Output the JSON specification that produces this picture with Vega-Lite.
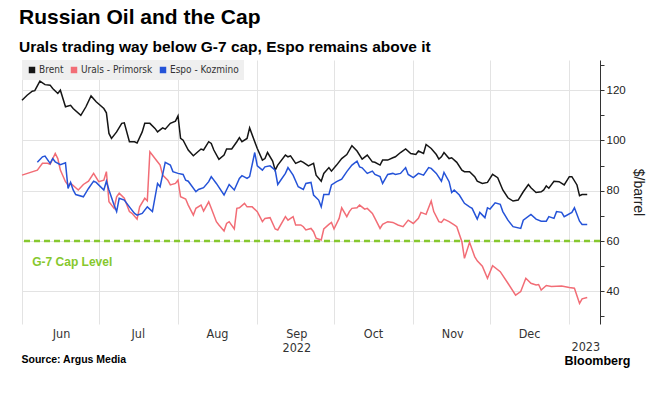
{
 "$schema": "https://vega.github.io/schema/vega-lite/v6.json",
 "width": 578,
 "height": 264,
 "autosize": "none",
 "padding": {"left": 22, "top": 60, "right": 62, "bottom": 70},
 "background": "white",
 "title": {
  "text": "Russian Oil and the Cap",
  "subtitle": "Urals trading way below G-7 cap, Espo remains above it",
  "anchor": "start", "frame": "group", "dx": -3, "offset": 5,
  "font": "Liberation Sans", "fontSize": 21, "fontWeight": "bold", "color": "#000000",
  "subtitleFont": "Liberation Sans", "subtitleFontSize": 15.5, "subtitleFontWeight": "bold", "subtitleColor": "#000000", "subtitlePadding": 12
 },
 "config": {"view": {"stroke": null}},
 "resolve": {"axis": {"x": "independent", "y": "independent"}},
 "layer": [
  {
   "data": {"values": [{}]},
   "mark": {"type": "rule", "color": "#86c82e", "strokeWidth": 2.5, "strokeDash": [6, 4]},
   "encoding": {"y": {"datum": 60, "type": "quantitative",
    "axis": {"orient": "right", "values": [30, 50, 70, 90, 110, 130], "labels": false, "grid": false, "domain": false,
     "ticks": true, "tickColor": "#333333", "tickSize": 4, "tickWidth": 1, "title": null}}}
  },
  {
   "data": {"values": [
    {"d":"2022-06-01","s":"Brent","v":116},{"d":"2022-06-03","s":"Brent","v":118},{"d":"2022-06-05","s":"Brent","v":119.6},{"d":"2022-06-06","s":"Brent","v":119.8},{"d":"2022-06-08","s":"Brent","v":123.6},{"d":"2022-06-10","s":"Brent","v":122.2},{"d":"2022-06-12","s":"Brent","v":122},{"d":"2022-06-13","s":"Brent","v":120.7},{"d":"2022-06-15","s":"Brent","v":118.7},{"d":"2022-06-16","s":"Brent","v":120},{"d":"2022-06-18","s":"Brent","v":113.4},{"d":"2022-06-20","s":"Brent","v":114},{"d":"2022-06-21","s":"Brent","v":112.7},{"d":"2022-06-24","s":"Brent","v":110},{"d":"2022-06-26","s":"Brent","v":113.4},{"d":"2022-06-28","s":"Brent","v":117.7},{"d":"2022-06-30","s":"Brent","v":115.4},
    {"d":"2022-07-03","s":"Brent","v":112.7},{"d":"2022-07-04","s":"Brent","v":111},{"d":"2022-07-05","s":"Brent","v":102.8},{"d":"2022-07-06","s":"Brent","v":100.8},{"d":"2022-07-08","s":"Brent","v":103.4},{"d":"2022-07-10","s":"Brent","v":106.8},{"d":"2022-07-11","s":"Brent","v":107},{"d":"2022-07-13","s":"Brent","v":99.5},{"d":"2022-07-15","s":"Brent","v":99.5},{"d":"2022-07-16","s":"Brent","v":99},{"d":"2022-07-18","s":"Brent","v":103.4},{"d":"2022-07-19","s":"Brent","v":106.8},{"d":"2022-07-21","s":"Brent","v":106.8},{"d":"2022-07-23","s":"Brent","v":104.8},{"d":"2022-07-24","s":"Brent","v":103.4},{"d":"2022-07-26","s":"Brent","v":105},{"d":"2022-07-27","s":"Brent","v":104.5},{"d":"2022-07-29","s":"Brent","v":106.8},{"d":"2022-07-31","s":"Brent","v":107.7},
    {"d":"2022-08-01","s":"Brent","v":109.8},{"d":"2022-08-02","s":"Brent","v":100.8},{"d":"2022-08-03","s":"Brent","v":100.1},{"d":"2022-08-05","s":"Brent","v":96.2},{"d":"2022-08-07","s":"Brent","v":93.9},{"d":"2022-08-08","s":"Brent","v":94.8},{"d":"2022-08-10","s":"Brent","v":96.6},{"d":"2022-08-11","s":"Brent","v":96.2},{"d":"2022-08-13","s":"Brent","v":99.5},{"d":"2022-08-14","s":"Brent","v":98.8},{"d":"2022-08-15","s":"Brent","v":96.2},{"d":"2022-08-17","s":"Brent","v":92.5},{"d":"2022-08-19","s":"Brent","v":94.2},{"d":"2022-08-20","s":"Brent","v":96.6},{"d":"2022-08-22","s":"Brent","v":96.6},{"d":"2022-08-24","s":"Brent","v":99.5},{"d":"2022-08-25","s":"Brent","v":101.1},{"d":"2022-08-26","s":"Brent","v":99.5},{"d":"2022-08-28","s":"Brent","v":100.8},{"d":"2022-08-29","s":"Brent","v":105},{"d":"2022-08-31","s":"Brent","v":99.5},
    {"d":"2022-09-01","s":"Brent","v":96.8},{"d":"2022-09-03","s":"Brent","v":92.2},{"d":"2022-09-04","s":"Brent","v":92.8},{"d":"2022-09-05","s":"Brent","v":95.2},{"d":"2022-09-07","s":"Brent","v":91.8},{"d":"2022-09-08","s":"Brent","v":88.2},{"d":"2022-09-09","s":"Brent","v":90.2},{"d":"2022-09-12","s":"Brent","v":94.2},{"d":"2022-09-13","s":"Brent","v":93.5},{"d":"2022-09-14","s":"Brent","v":93.9},{"d":"2022-09-16","s":"Brent","v":90.9},{"d":"2022-09-18","s":"Brent","v":91.8},{"d":"2022-09-19","s":"Brent","v":91.3},{"d":"2022-09-21","s":"Brent","v":89.9},{"d":"2022-09-23","s":"Brent","v":90.9},{"d":"2022-09-24","s":"Brent","v":86.2},{"d":"2022-09-26","s":"Brent","v":83.8},{"d":"2022-09-27","s":"Brent","v":86.9},{"d":"2022-09-29","s":"Brent","v":89.2},{"d":"2022-09-30","s":"Brent","v":87.8},
    {"d":"2022-10-02","s":"Brent","v":90.2},{"d":"2022-10-04","s":"Brent","v":92.8},{"d":"2022-10-06","s":"Brent","v":94.4},{"d":"2022-10-08","s":"Brent","v":97.9},{"d":"2022-10-10","s":"Brent","v":95.8},{"d":"2022-10-12","s":"Brent","v":92.6},{"d":"2022-10-14","s":"Brent","v":94.2},{"d":"2022-10-16","s":"Brent","v":91.5},{"d":"2022-10-17","s":"Brent","v":91.3},{"d":"2022-10-19","s":"Brent","v":90.2},{"d":"2022-10-20","s":"Brent","v":92.2},{"d":"2022-10-22","s":"Brent","v":92.2},{"d":"2022-10-24","s":"Brent","v":93.1},{"d":"2022-10-25","s":"Brent","v":93.5},{"d":"2022-10-27","s":"Brent","v":95.2},{"d":"2022-10-29","s":"Brent","v":96.6},{"d":"2022-10-31","s":"Brent","v":94.8},
    {"d":"2022-11-02","s":"Brent","v":94.4},{"d":"2022-11-03","s":"Brent","v":95.8},{"d":"2022-11-05","s":"Brent","v":94.8},{"d":"2022-11-06","s":"Brent","v":98.4},{"d":"2022-11-08","s":"Brent","v":96.8},{"d":"2022-11-10","s":"Brent","v":94.4},{"d":"2022-11-11","s":"Brent","v":92.6},{"d":"2022-11-12","s":"Brent","v":93.5},{"d":"2022-11-13","s":"Brent","v":95.2},{"d":"2022-11-15","s":"Brent","v":92.8},{"d":"2022-11-16","s":"Brent","v":93.1},{"d":"2022-11-18","s":"Brent","v":91.3},{"d":"2022-11-20","s":"Brent","v":88.2},{"d":"2022-11-21","s":"Brent","v":87.6},{"d":"2022-11-23","s":"Brent","v":87.6},{"d":"2022-11-25","s":"Brent","v":85.6},{"d":"2022-11-26","s":"Brent","v":83.8},{"d":"2022-11-28","s":"Brent","v":82.9},{"d":"2022-11-30","s":"Brent","v":83.3},
    {"d":"2022-12-02","s":"Brent","v":86.5},{"d":"2022-12-04","s":"Brent","v":85.2},{"d":"2022-12-06","s":"Brent","v":80.3},{"d":"2022-12-08","s":"Brent","v":77.2},{"d":"2022-12-10","s":"Brent","v":75.9},{"d":"2022-12-12","s":"Brent","v":76.3},{"d":"2022-12-14","s":"Brent","v":79.6},{"d":"2022-12-16","s":"Brent","v":82.5},{"d":"2022-12-17","s":"Brent","v":81.2},{"d":"2022-12-19","s":"Brent","v":79.3},{"d":"2022-12-21","s":"Brent","v":79.6},{"d":"2022-12-22","s":"Brent","v":80.3},{"d":"2022-12-23","s":"Brent","v":81.9},{"d":"2022-12-24","s":"Brent","v":81},{"d":"2022-12-26","s":"Brent","v":83.8},{"d":"2022-12-28","s":"Brent","v":83.6},{"d":"2022-12-30","s":"Brent","v":82.3},{"d":"2023-01-01","s":"Brent","v":85.6},{"d":"2023-01-02","s":"Brent","v":85.6},{"d":"2023-01-04","s":"Brent","v":82.3},{"d":"2023-01-05","s":"Brent","v":78},{"d":"2023-01-06","s":"Brent","v":78.5},{"d":"2023-01-08","s":"Brent","v":78.5},

    {"d":"2022-06-01","s":"Urals - Primorsk","v":86.2},{"d":"2022-06-07","s":"Urals - Primorsk","v":88.2},{"d":"2022-06-09","s":"Urals - Primorsk","v":90.9},{"d":"2022-06-11","s":"Urals - Primorsk","v":90.9},{"d":"2022-06-12","s":"Urals - Primorsk","v":90.5},{"d":"2022-06-14","s":"Urals - Primorsk","v":94.8},{"d":"2022-06-15","s":"Urals - Primorsk","v":92.8},{"d":"2022-06-16","s":"Urals - Primorsk","v":88.2},{"d":"2022-06-18","s":"Urals - Primorsk","v":83.6},{"d":"2022-06-19","s":"Urals - Primorsk","v":82.3},{"d":"2022-06-20","s":"Urals - Primorsk","v":83},{"d":"2022-06-23","s":"Urals - Primorsk","v":80.3},{"d":"2022-06-25","s":"Urals - Primorsk","v":82.5},{"d":"2022-06-27","s":"Urals - Primorsk","v":83.8},{"d":"2022-06-29","s":"Urals - Primorsk","v":86.9},
    {"d":"2022-07-01","s":"Urals - Primorsk","v":83.6},{"d":"2022-07-03","s":"Urals - Primorsk","v":84.2},{"d":"2022-07-04","s":"Urals - Primorsk","v":87.6},{"d":"2022-07-05","s":"Urals - Primorsk","v":75.6},{"d":"2022-07-07","s":"Urals - Primorsk","v":73},{"d":"2022-07-08","s":"Urals - Primorsk","v":77.6},{"d":"2022-07-09","s":"Urals - Primorsk","v":79},{"d":"2022-07-11","s":"Urals - Primorsk","v":77},{"d":"2022-07-13","s":"Urals - Primorsk","v":71.7},{"d":"2022-07-14","s":"Urals - Primorsk","v":71},{"d":"2022-07-16","s":"Urals - Primorsk","v":68.7},{"d":"2022-07-17","s":"Urals - Primorsk","v":73.6},{"d":"2022-07-19","s":"Urals - Primorsk","v":77},{"d":"2022-07-20","s":"Urals - Primorsk","v":76},{"d":"2022-07-21","s":"Urals - Primorsk","v":95.5},{"d":"2022-07-23","s":"Urals - Primorsk","v":92.8},{"d":"2022-07-25","s":"Urals - Primorsk","v":90.2},{"d":"2022-07-26","s":"Urals - Primorsk","v":86.2},{"d":"2022-07-28","s":"Urals - Primorsk","v":84.2},{"d":"2022-07-29","s":"Urals - Primorsk","v":82.3},{"d":"2022-07-31","s":"Urals - Primorsk","v":82.9},
    {"d":"2022-08-01","s":"Urals - Primorsk","v":84.2},{"d":"2022-08-02","s":"Urals - Primorsk","v":77.6},{"d":"2022-08-04","s":"Urals - Primorsk","v":76.7},{"d":"2022-08-05","s":"Urals - Primorsk","v":74.3},{"d":"2022-08-07","s":"Urals - Primorsk","v":70.3},{"d":"2022-08-08","s":"Urals - Primorsk","v":73},{"d":"2022-08-10","s":"Urals - Primorsk","v":74.3},{"d":"2022-08-11","s":"Urals - Primorsk","v":71.9},{"d":"2022-08-13","s":"Urals - Primorsk","v":75.6},{"d":"2022-08-14","s":"Urals - Primorsk","v":73},{"d":"2022-08-16","s":"Urals - Primorsk","v":67.7},{"d":"2022-08-17","s":"Urals - Primorsk","v":66.4},{"d":"2022-08-19","s":"Urals - Primorsk","v":64},{"d":"2022-08-20","s":"Urals - Primorsk","v":67},{"d":"2022-08-21","s":"Urals - Primorsk","v":67.7},{"d":"2022-08-23","s":"Urals - Primorsk","v":64.8},{"d":"2022-08-24","s":"Urals - Primorsk","v":73},{"d":"2022-08-25","s":"Urals - Primorsk","v":73.2},{"d":"2022-08-27","s":"Urals - Primorsk","v":75},{"d":"2022-08-28","s":"Urals - Primorsk","v":73.6},{"d":"2022-08-30","s":"Urals - Primorsk","v":73.6},
    {"d":"2022-09-01","s":"Urals - Primorsk","v":71.7},{"d":"2022-09-03","s":"Urals - Primorsk","v":67.7},{"d":"2022-09-04","s":"Urals - Primorsk","v":69},{"d":"2022-09-06","s":"Urals - Primorsk","v":69.3},{"d":"2022-09-08","s":"Urals - Primorsk","v":64.8},{"d":"2022-09-09","s":"Urals - Primorsk","v":64.4},{"d":"2022-09-12","s":"Urals - Primorsk","v":69.7},{"d":"2022-09-13","s":"Urals - Primorsk","v":68.3},{"d":"2022-09-15","s":"Urals - Primorsk","v":69.7},{"d":"2022-09-16","s":"Urals - Primorsk","v":66.4},{"d":"2022-09-18","s":"Urals - Primorsk","v":66.4},{"d":"2022-09-19","s":"Urals - Primorsk","v":65.7},{"d":"2022-09-20","s":"Urals - Primorsk","v":64.4},{"d":"2022-09-22","s":"Urals - Primorsk","v":65},{"d":"2022-09-23","s":"Urals - Primorsk","v":63.7},{"d":"2022-09-24","s":"Urals - Primorsk","v":61.1},{"d":"2022-09-26","s":"Urals - Primorsk","v":60.4},{"d":"2022-09-27","s":"Urals - Primorsk","v":64.8},{"d":"2022-09-29","s":"Urals - Primorsk","v":66.6},{"d":"2022-09-30","s":"Urals - Primorsk","v":67.4},
    {"d":"2022-10-01","s":"Urals - Primorsk","v":64.8},{"d":"2022-10-03","s":"Urals - Primorsk","v":69},{"d":"2022-10-04","s":"Urals - Primorsk","v":73.2},{"d":"2022-10-06","s":"Urals - Primorsk","v":69.7},{"d":"2022-10-07","s":"Urals - Primorsk","v":71.7},{"d":"2022-10-08","s":"Urals - Primorsk","v":73},{"d":"2022-10-10","s":"Urals - Primorsk","v":73.2},{"d":"2022-10-11","s":"Urals - Primorsk","v":74.3},{"d":"2022-10-13","s":"Urals - Primorsk","v":72.7},{"d":"2022-10-14","s":"Urals - Primorsk","v":73},{"d":"2022-10-16","s":"Urals - Primorsk","v":71},{"d":"2022-10-17","s":"Urals - Primorsk","v":69},{"d":"2022-10-19","s":"Urals - Primorsk","v":65},{"d":"2022-10-20","s":"Urals - Primorsk","v":66.6},{"d":"2022-10-22","s":"Urals - Primorsk","v":67.7},{"d":"2022-10-24","s":"Urals - Primorsk","v":67.4},{"d":"2022-10-26","s":"Urals - Primorsk","v":66.4},{"d":"2022-10-28","s":"Urals - Primorsk","v":65.7},{"d":"2022-10-30","s":"Urals - Primorsk","v":68.3},
    {"d":"2022-11-01","s":"Urals - Primorsk","v":67},{"d":"2022-11-03","s":"Urals - Primorsk","v":69},{"d":"2022-11-04","s":"Urals - Primorsk","v":71.4},{"d":"2022-11-06","s":"Urals - Primorsk","v":70.6},{"d":"2022-11-08","s":"Urals - Primorsk","v":75.9},{"d":"2022-11-09","s":"Urals - Primorsk","v":71.7},{"d":"2022-11-11","s":"Urals - Primorsk","v":67.7},{"d":"2022-11-12","s":"Urals - Primorsk","v":67.4},{"d":"2022-11-13","s":"Urals - Primorsk","v":68.7},{"d":"2022-11-15","s":"Urals - Primorsk","v":67.7},{"d":"2022-11-17","s":"Urals - Primorsk","v":66.4},{"d":"2022-11-18","s":"Urals - Primorsk","v":65.7},{"d":"2022-11-20","s":"Urals - Primorsk","v":59.7},{"d":"2022-11-21","s":"Urals - Primorsk","v":53.1},{"d":"2022-11-23","s":"Urals - Primorsk","v":59.5},{"d":"2022-11-25","s":"Urals - Primorsk","v":53.8},{"d":"2022-11-26","s":"Urals - Primorsk","v":52.1},{"d":"2022-11-28","s":"Urals - Primorsk","v":50},{"d":"2022-11-30","s":"Urals - Primorsk","v":45.2},
    {"d":"2022-12-02","s":"Urals - Primorsk","v":50.2},{"d":"2022-12-05","s":"Urals - Primorsk","v":47.8},{"d":"2022-12-08","s":"Urals - Primorsk","v":43.2},{"d":"2022-12-11","s":"Urals - Primorsk","v":38.5},{"d":"2022-12-13","s":"Urals - Primorsk","v":39.9},{"d":"2022-12-15","s":"Urals - Primorsk","v":45.2},{"d":"2022-12-17","s":"Urals - Primorsk","v":43.2},{"d":"2022-12-19","s":"Urals - Primorsk","v":42.5},{"d":"2022-12-20","s":"Urals - Primorsk","v":42.7},{"d":"2022-12-21","s":"Urals - Primorsk","v":40.5},{"d":"2022-12-23","s":"Urals - Primorsk","v":42.3},{"d":"2022-12-25","s":"Urals - Primorsk","v":41.9},{"d":"2022-12-29","s":"Urals - Primorsk","v":42.1},{"d":"2023-01-01","s":"Urals - Primorsk","v":41.5},{"d":"2023-01-03","s":"Urals - Primorsk","v":41.2},{"d":"2023-01-05","s":"Urals - Primorsk","v":35.2},{"d":"2023-01-06","s":"Urals - Primorsk","v":37},{"d":"2023-01-08","s":"Urals - Primorsk","v":37.5},

    {"d":"2022-06-07","s":"Espo - Kozmino","v":91.3},{"d":"2022-06-09","s":"Espo - Kozmino","v":93.5},{"d":"2022-06-10","s":"Espo - Kozmino","v":93.8},{"d":"2022-06-12","s":"Espo - Kozmino","v":90.9},{"d":"2022-06-13","s":"Espo - Kozmino","v":92.8},{"d":"2022-06-14","s":"Espo - Kozmino","v":91.5},{"d":"2022-06-16","s":"Espo - Kozmino","v":90.4},{"d":"2022-06-18","s":"Espo - Kozmino","v":91.1},{"d":"2022-06-19","s":"Espo - Kozmino","v":80.9},{"d":"2022-06-20","s":"Espo - Kozmino","v":83.3},{"d":"2022-06-21","s":"Espo - Kozmino","v":80.3},{"d":"2022-06-22","s":"Espo - Kozmino","v":78.5},{"d":"2022-06-25","s":"Espo - Kozmino","v":77.6},{"d":"2022-06-27","s":"Espo - Kozmino","v":80.9},{"d":"2022-06-29","s":"Espo - Kozmino","v":83.8},{"d":"2022-06-30","s":"Espo - Kozmino","v":83.3},
    {"d":"2022-07-03","s":"Espo - Kozmino","v":80.3},{"d":"2022-07-04","s":"Espo - Kozmino","v":83.8},{"d":"2022-07-05","s":"Espo - Kozmino","v":80.3},{"d":"2022-07-07","s":"Espo - Kozmino","v":74.3},{"d":"2022-07-08","s":"Espo - Kozmino","v":71.7},{"d":"2022-07-09","s":"Espo - Kozmino","v":77},{"d":"2022-07-11","s":"Espo - Kozmino","v":76.3},{"d":"2022-07-13","s":"Espo - Kozmino","v":73.6},{"d":"2022-07-15","s":"Espo - Kozmino","v":71},{"d":"2022-07-16","s":"Espo - Kozmino","v":70.3},{"d":"2022-07-18","s":"Espo - Kozmino","v":71},{"d":"2022-07-20","s":"Espo - Kozmino","v":73.6},{"d":"2022-07-22","s":"Espo - Kozmino","v":71.7},{"d":"2022-07-24","s":"Espo - Kozmino","v":82.9},{"d":"2022-07-25","s":"Espo - Kozmino","v":81.6},{"d":"2022-07-27","s":"Espo - Kozmino","v":91.3},{"d":"2022-07-29","s":"Espo - Kozmino","v":90.2},{"d":"2022-07-30","s":"Espo - Kozmino","v":87.6},
    {"d":"2022-08-01","s":"Espo - Kozmino","v":86.9},{"d":"2022-08-03","s":"Espo - Kozmino","v":86.5},{"d":"2022-08-04","s":"Espo - Kozmino","v":84.2},{"d":"2022-08-05","s":"Espo - Kozmino","v":83.8},{"d":"2022-08-08","s":"Espo - Kozmino","v":79.6},{"d":"2022-08-09","s":"Espo - Kozmino","v":80.5},{"d":"2022-08-11","s":"Espo - Kozmino","v":81.2},{"d":"2022-08-13","s":"Espo - Kozmino","v":83.6},{"d":"2022-08-14","s":"Espo - Kozmino","v":85.6},{"d":"2022-08-16","s":"Espo - Kozmino","v":82.9},{"d":"2022-08-19","s":"Espo - Kozmino","v":78.3},{"d":"2022-08-21","s":"Espo - Kozmino","v":82.5},{"d":"2022-08-23","s":"Espo - Kozmino","v":80.3},{"d":"2022-08-25","s":"Espo - Kozmino","v":84.9},{"d":"2022-08-26","s":"Espo - Kozmino","v":86},{"d":"2022-08-28","s":"Espo - Kozmino","v":84.9},{"d":"2022-08-29","s":"Espo - Kozmino","v":85.6},{"d":"2022-08-31","s":"Espo - Kozmino","v":95.2},
    {"d":"2022-09-01","s":"Espo - Kozmino","v":89.9},{"d":"2022-09-03","s":"Espo - Kozmino","v":88.2},{"d":"2022-09-04","s":"Espo - Kozmino","v":89.5},{"d":"2022-09-06","s":"Espo - Kozmino","v":89.9},{"d":"2022-09-08","s":"Espo - Kozmino","v":88.2},{"d":"2022-09-09","s":"Espo - Kozmino","v":82.5},{"d":"2022-09-12","s":"Espo - Kozmino","v":86.9},{"d":"2022-09-13","s":"Espo - Kozmino","v":89.2},{"d":"2022-09-15","s":"Espo - Kozmino","v":86.2},{"d":"2022-09-17","s":"Espo - Kozmino","v":81.6},{"d":"2022-09-19","s":"Espo - Kozmino","v":80.5},{"d":"2022-09-20","s":"Espo - Kozmino","v":82.9},{"d":"2022-09-22","s":"Espo - Kozmino","v":83.3},{"d":"2022-09-23","s":"Espo - Kozmino","v":78.3},{"d":"2022-09-25","s":"Espo - Kozmino","v":76.3},{"d":"2022-09-26","s":"Espo - Kozmino","v":73.6},{"d":"2022-09-27","s":"Espo - Kozmino","v":78.5},{"d":"2022-09-29","s":"Espo - Kozmino","v":78.5},{"d":"2022-09-30","s":"Espo - Kozmino","v":82.3},
    {"d":"2022-10-02","s":"Espo - Kozmino","v":83.6},{"d":"2022-10-04","s":"Espo - Kozmino","v":84.6},{"d":"2022-10-06","s":"Espo - Kozmino","v":87.6},{"d":"2022-10-08","s":"Espo - Kozmino","v":90.2},{"d":"2022-10-10","s":"Espo - Kozmino","v":91.8},{"d":"2022-10-11","s":"Espo - Kozmino","v":89.5},{"d":"2022-10-12","s":"Espo - Kozmino","v":89.1},{"d":"2022-10-14","s":"Espo - Kozmino","v":86.9},{"d":"2022-10-16","s":"Espo - Kozmino","v":87.8},{"d":"2022-10-17","s":"Espo - Kozmino","v":86.5},{"d":"2022-10-19","s":"Espo - Kozmino","v":85.6},{"d":"2022-10-20","s":"Espo - Kozmino","v":82.9},{"d":"2022-10-22","s":"Espo - Kozmino","v":86.5},{"d":"2022-10-24","s":"Espo - Kozmino","v":86.9},{"d":"2022-10-25","s":"Espo - Kozmino","v":86.5},{"d":"2022-10-27","s":"Espo - Kozmino","v":86.9},{"d":"2022-10-29","s":"Espo - Kozmino","v":89.2},{"d":"2022-10-30","s":"Espo - Kozmino","v":86.5},
    {"d":"2022-11-01","s":"Espo - Kozmino","v":85.2},{"d":"2022-11-03","s":"Espo - Kozmino","v":86.9},{"d":"2022-11-05","s":"Espo - Kozmino","v":86.2},{"d":"2022-11-07","s":"Espo - Kozmino","v":89.2},{"d":"2022-11-08","s":"Espo - Kozmino","v":88.9},{"d":"2022-11-10","s":"Espo - Kozmino","v":86.9},{"d":"2022-11-12","s":"Espo - Kozmino","v":83.8},{"d":"2022-11-13","s":"Espo - Kozmino","v":87.3},{"d":"2022-11-15","s":"Espo - Kozmino","v":83.6},{"d":"2022-11-16","s":"Espo - Kozmino","v":79.3},{"d":"2022-11-17","s":"Espo - Kozmino","v":80.3},{"d":"2022-11-19","s":"Espo - Kozmino","v":78.3},{"d":"2022-11-21","s":"Espo - Kozmino","v":75},{"d":"2022-11-23","s":"Espo - Kozmino","v":73.6},{"d":"2022-11-24","s":"Espo - Kozmino","v":73},{"d":"2022-11-26","s":"Espo - Kozmino","v":68.7},{"d":"2022-11-27","s":"Espo - Kozmino","v":71.4},{"d":"2022-11-29","s":"Espo - Kozmino","v":69.3},{"d":"2022-11-30","s":"Espo - Kozmino","v":73.2},
    {"d":"2022-12-01","s":"Espo - Kozmino","v":72.7},{"d":"2022-12-03","s":"Espo - Kozmino","v":75.2},{"d":"2022-12-05","s":"Espo - Kozmino","v":74.6},{"d":"2022-12-06","s":"Espo - Kozmino","v":71.7},{"d":"2022-12-08","s":"Espo - Kozmino","v":68.3},{"d":"2022-12-10","s":"Espo - Kozmino","v":65.7},{"d":"2022-12-13","s":"Espo - Kozmino","v":65},{"d":"2022-12-14","s":"Espo - Kozmino","v":68.3},{"d":"2022-12-17","s":"Espo - Kozmino","v":70.6},{"d":"2022-12-19","s":"Espo - Kozmino","v":68.7},{"d":"2022-12-21","s":"Espo - Kozmino","v":67.9},{"d":"2022-12-23","s":"Espo - Kozmino","v":67.9},{"d":"2022-12-24","s":"Espo - Kozmino","v":69.7},{"d":"2022-12-26","s":"Espo - Kozmino","v":69},{"d":"2022-12-27","s":"Espo - Kozmino","v":71.7},{"d":"2022-12-29","s":"Espo - Kozmino","v":71.4},{"d":"2022-12-30","s":"Espo - Kozmino","v":69.7},{"d":"2023-01-02","s":"Espo - Kozmino","v":71.4},{"d":"2023-01-03","s":"Espo - Kozmino","v":73.2},{"d":"2023-01-05","s":"Espo - Kozmino","v":67.9},{"d":"2023-01-06","s":"Espo - Kozmino","v":66.6},{"d":"2023-01-08","s":"Espo - Kozmino","v":66.6}
   ]},
   "mark": {"type": "line", "strokeWidth": 1.5},
   "encoding": {
    "x": {
     "field": "d", "type": "temporal",
     "scale": {"type": "utc", "domain": [{"year": 2022, "month": 6, "date": 1, "utc": true}, {"year": 2023, "month": 1, "date": 13, "utc": true}]},
     "axis": {
      "orient": "bottom",
      "values": [
       {"year": 2022, "month": 6, "date": 1, "utc": true},
       {"year": 2022, "month": 7, "date": 1, "utc": true},
       {"year": 2022, "month": 8, "date": 1, "utc": true},
       {"year": 2022, "month": 9, "date": 1, "utc": true},
       {"year": 2022, "month": 10, "date": 1, "utc": true},
       {"year": 2022, "month": 11, "date": 1, "utc": true},
       {"year": 2022, "month": 12, "date": 1, "utc": true},
       {"year": 2023, "month": 1, "date": 1, "utc": true}
      ],
      "grid": true, "gridColor": "#e3e3e3", "gridWidth": 1,
      "ticks": false, "domain": false,
      "labelExpr": "utcmonth(datum.value) == 0 ? '2023' : (utcmonth(datum.value) == 8 ? ['Sep', '2022'] : utcFormat(datum.value, '%b'))",
      "labelOffset": {"condition": {"test": "utcmonth(datum.value) == 0", "value": 16}, "value": 39},
      "labelPadding": {"condition": {"test": "utcmonth(datum.value) == 0", "value": 16}, "value": 3},
      "labelFont": "DejaVu Sans Condensed", "labelFontSize": 12.5, "labelColor": "#333333", "labelLineHeight": 14,
      "labelFlush": false, "labelOverlap": false, "labelBound": false,
      "title": "Source: Argus Media", "titleAnchor": "start", "titleAlign": "left", "titleX": -1, "titleY": 38,
      "titleBaseline": "alphabetic", "titleFont": "Liberation Sans", "titleFontSize": 10.5, "titleFontWeight": "bold", "titleColor": "#000000"
     }
    },
    "y": {
     "field": "v", "type": "quantitative",
     "scale": {"domain": [27, 132], "nice": false, "zero": false},
     "axis": {
      "orient": "right",
      "values": [40, 60, 80, 100, 120],
      "labelOverlap": false,
      "grid": true, "gridColor": "#e3e3e3", "gridWidth": 1,
      "domain": true, "domainColor": "#333333", "domainWidth": 1,
      "ticks": true, "tickColor": "#333333", "tickSize": 4, "tickWidth": 1,
      "labelFont": "Liberation Sans", "labelFontSize": 11.5, "labelColor": "#222222", "labelPadding": 2,
      "title": "$/barrel", "titleFont": "Liberation Sans", "titleFontSize": 14, "titleFontWeight": "normal", "titleColor": "#222222", "titlePadding": 5, "titleAngle": 90
     }
    },
    "color": {
     "field": "s", "type": "nominal",
     "scale": {"domain": ["Brent", "Urals - Primorsk", "Espo - Kozmino"], "range": ["#151515", "#f26d76", "#2553d8"]},
     "legend": {
      "orient": "top-left", "offset": 0, "direction": "horizontal", "title": null,
      "fillColor": "#efefef", "padding": 5,
      "symbolType": "square", "symbolSize": 42, "symbolStrokeWidth": 0,
      "labelFont": "DejaVu Sans Condensed", "labelFontSize": 10, "labelColor": "#333333",
      "labelOffset": 2, "columnPadding": 5,
      "encode": {"symbols": {"update": {"fill": {"scale": "color", "field": "value"}, "strokeWidth": {"value": 0}, "shape": {"value": "square"}}}}
     }
    }
   }
  },
  {
   "data": {"values": [{}]},
   "mark": {"type": "text", "text": "G-7 Cap Level", "align": "left", "baseline": "middle", "font": "Liberation Sans", "fontSize": 12, "fontWeight": "bold", "color": "#86c82e"},
   "encoding": {
    "x": {"datum": {"year": 2022, "month": 6, "date": 5, "utc": true}, "type": "temporal",
     "axis": {"orient": "bottom", "labels": false, "ticks": false, "domain": false, "grid": false,
      "title": "Bloomberg", "titleAnchor": "end", "titleAlign": "right", "titleX": 608, "titleY": 40, "titleBaseline": "alphabetic",
      "titleFont": "Liberation Sans", "titleFontSize": 12.5, "titleFontWeight": "bold", "titleColor": "#000000"}},
    "y": {"datum": 51.5, "type": "quantitative", "axis": null}
   }
  }
 ]
}
